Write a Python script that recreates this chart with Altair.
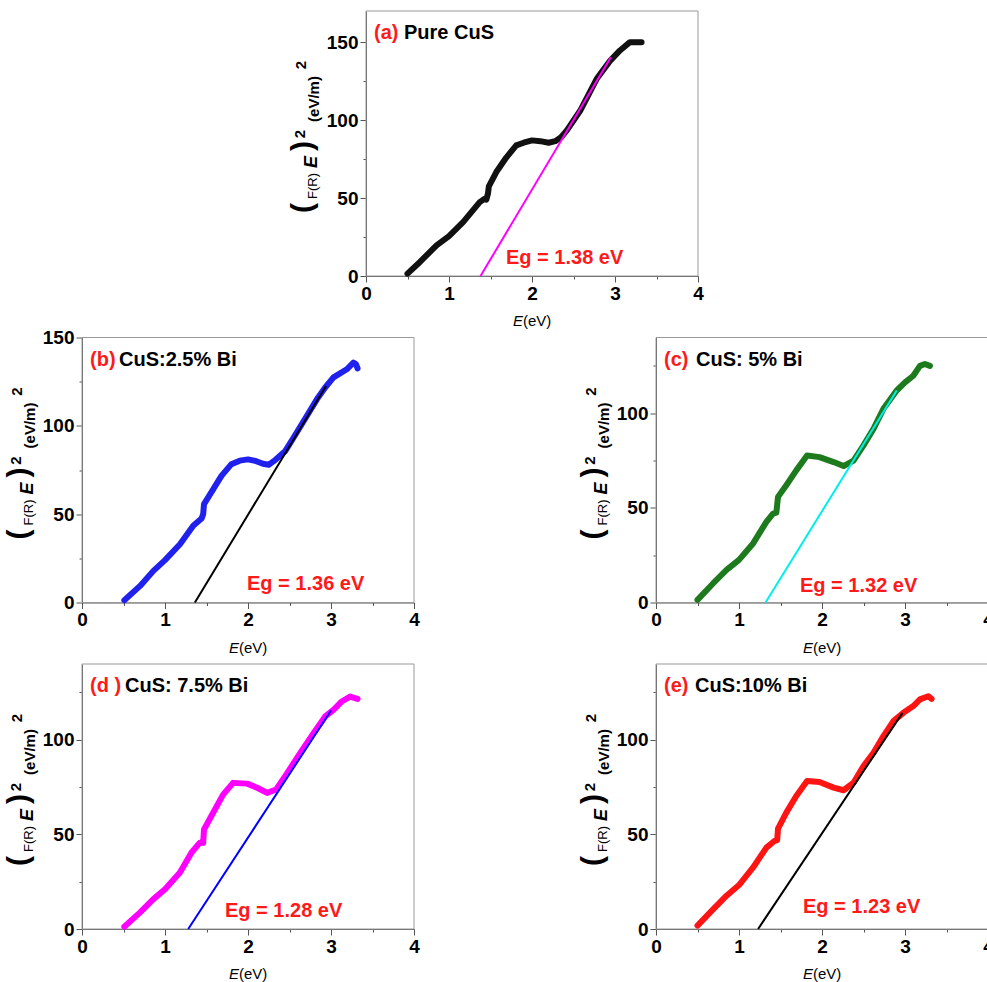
import altair as alt
import pandas as pd

# ---------------- data ----------------
tags = ["(a)", "(b)", "(c)", "(d )", "(e)"]
sample_names = ["Pure CuS", "CuS:2.5% Bi", "CuS: 5% Bi", "CuS: 7.5% Bi", "CuS:10% Bi"]

# Tauc-type curves (F(R)·E)^2 versus photon energy E (eV)
energy_a = [0.50, 0.65, 0.85, 1.00, 1.17, 1.37, 1.43, 1.45, 1.47, 1.48, 1.57, 1.69, 1.81, 1.90,
            2.00, 2.10, 2.20, 2.28, 2.35, 2.42, 2.58, 2.78, 2.94, 3.06, 3.18, 3.32]
signal_a = [1.5, 9.0, 19.7, 25.6, 34.6, 47.4, 49.6, 49.0, 53.0, 57.5, 66.7, 76.0, 83.8, 85.5,
            87.0, 86.5, 85.5, 86.5, 89.0, 93.4, 106.0, 126.5, 138.0, 144.7, 150.0, 150.0]

energy_b = [0.51, 0.70, 0.86, 1.00, 1.18, 1.34, 1.44, 1.46, 1.47, 1.58, 1.68, 1.80, 1.90, 2.00,
            2.10, 2.18, 2.25, 2.31, 2.45, 2.55, 2.71, 2.83, 2.93, 3.03, 3.19, 3.27, 3.30, 3.32]
signal_b = [1.3, 9.4, 17.9, 24.0, 33.0, 43.4, 47.5, 50.0, 55.7, 64.0, 71.7, 78.3, 80.3, 81.0,
            80.0, 78.5, 78.0, 80.0, 85.8, 93.4, 105.7, 115.0, 121.7, 127.4, 132.0, 135.8, 135.0, 132.5]

energy_c = [0.50, 0.69, 0.85, 1.00, 1.17, 1.33, 1.41, 1.45, 1.47, 1.57, 1.69, 1.82, 1.97, 2.14,
            2.26, 2.38, 2.50, 2.62, 2.74, 2.90, 3.00, 3.10, 3.18, 3.24, 3.30]
signal_c = [1.4, 10.2, 17.2, 22.5, 31.2, 42.6, 47.0, 47.5, 55.8, 62.0, 69.8, 77.7, 76.8, 74.2,
            72.1, 75.0, 83.0, 91.7, 102.3, 112.0, 116.3, 119.8, 125.0, 126.0, 125.0]

energy_d = [0.51, 0.70, 0.86, 1.00, 1.18, 1.32, 1.42, 1.46, 1.47, 1.58, 1.70, 1.82, 1.99, 2.11,
            2.23, 2.34, 2.46, 2.63, 2.79, 2.93, 3.03, 3.13, 3.23, 3.32]
signal_d = [1.2, 8.8, 15.8, 21.0, 29.8, 40.4, 45.6, 45.5, 52.6, 61.4, 71.0, 77.2, 76.8, 74.6,
            71.9, 73.7, 81.6, 93.0, 103.5, 112.3, 115.8, 120.2, 122.8, 121.6]

energy_e = [0.50, 0.69, 0.85, 1.00, 1.17, 1.33, 1.43, 1.46, 1.47, 1.57, 1.69, 1.82, 1.97, 2.14,
            2.26, 2.38, 2.50, 2.62, 2.74, 2.86, 2.98, 3.10, 3.18, 3.28, 3.32]
signal_e = [1.8, 10.5, 17.6, 23.2, 32.5, 43.0, 46.6, 47.0, 53.0, 61.5, 70.3, 78.2, 77.7, 74.7,
            73.3, 77.3, 86.1, 93.1, 101.9, 109.8, 114.2, 117.8, 121.3, 123.0, 121.6]

energies = [energy_a, energy_b, energy_c, energy_d, energy_e]
signals = [signal_a, signal_b, signal_c, signal_d, signal_e]

# band-gap extrapolation: straight fit from (Eg, 0) up to its upper end point
eg_values = [1.38, 1.36, 1.32, 1.28, 1.23]
fit_end_E = [2.95, 2.94, 2.90, 3.00, 2.97]
fit_end_Y = [140.4, 122.6, 112.0, 115.4, 114.2]

y_max = [170, 150, 140, 140, 140]
y_tick_values = [[0, 25, 50, 75, 100, 125, 150],
                 [0, 25, 50, 75, 100, 125, 150],
                 [0, 25, 50, 75, 100, 125],
                 [0, 25, 50, 75, 100, 125],
                 [0, 25, 50, 75, 100, 125]]
x_tick_values = [0, 0.5, 1, 1.5, 2, 2.5, 3, 3.5, 4]

# ---------------- style ----------------
FONT = "Liberation Sans"
W, H = 332, 265
COL_GAP = 242
LEFT, TOP = 82, 11            # plot-area corner of the first grid cell
ROW_GAP = 61.5
PAGE_W, PAGE_H = 987, 982
SHIFT_A = 284                 # the top panel sits centred between the two columns
FRAME = "#999999"
AXIS = "#555555"
curve_colors = ["#111111", "#2121ee", "#1d7a1d", "#ff00ff", "#ff1414"]
fit_colors = ["#ff00ff", "#000000", "#00eeee", "#0000ff", "#000000"]
name_x = [38, 37, 40, 43, 39]
eg_label_xy = [(140, 247), (165, 246), (144, 248), (143, 247), (147, 243)]


def txt(s, x, y, size, color="black", weight="bold", italic=False, angle=0, align="center"):
    return alt.Chart(pd.DataFrame({"t": [s]})).mark_text(
        text=s, font=FONT, fontSize=size, fontWeight=weight,
        fontStyle="italic" if italic else "normal", color=color,
        angle=angle, align=align, baseline="middle",
    ).encode(x=alt.value(x), y=alt.value(y))


def panel(i, dx=0):
    x_axis = alt.Axis(
        values=x_tick_values, title=None, grid=False, labelFlush=False,
        labelExpr="datum.value % 1 === 0 ? '' + datum.value : ''",
        tickSize={"condition": {"test": "datum.value % 1 === 0", "value": 6}, "value": 3},
        labelFont=FONT, labelFontSize=19, labelFontWeight="bold", labelColor="black",
        labelPadding=2, domainColor=AXIS, tickColor=AXIS,
    )
    y_axis = alt.Axis(
        values=y_tick_values[i], title=None, grid=False, labelFlush=False,
        labelExpr="datum.value % 50 === 0 ? '' + datum.value : ''",
        tickSize={"condition": {"test": "datum.value % 50 === 0", "value": 6}, "value": 3},
        labelFont=FONT, labelFontSize=19, labelFontWeight="bold", labelColor="black",
        labelPadding=2, domainColor=AXIS, tickColor=AXIS, offset=-dx,
    )
    x_scale = alt.Scale(domain=[0, 4], nice=False, zero=False, range=[dx, dx + W])
    curve_df = pd.DataFrame({"E": energies[i], "Y": signals[i]})
    curve = alt.Chart(curve_df).mark_line(
        color=curve_colors[i], strokeWidth=6, strokeCap="round", strokeJoin="round"
    ).encode(
        x=alt.X("E:Q", scale=x_scale, axis=x_axis),
        y=alt.Y("Y:Q", scale=alt.Scale(domain=[0, y_max[i]], nice=False), axis=y_axis),
    )
    fit_df = pd.DataFrame({"E": [eg_values[i], fit_end_E[i]], "Y": [0, fit_end_Y[i]]})
    fit = alt.Chart(fit_df).mark_line(color=fit_colors[i], strokeWidth=2).encode(
        x="E:Q", y="Y:Q"
    )
    # plot frame drawn as a rectangle so it can follow the shifted range
    frame = alt.Chart(pd.DataFrame({"v": [0]})).mark_rect(
        fill="transparent", stroke=FRAME, strokeWidth=1
    ).encode(x=alt.value(dx), x2=alt.value(dx + W), y=alt.value(0), y2=alt.value(H))

    ex, ey = eg_label_xy[i]
    layers = [
        frame, curve, fit,
        txt(tags[i], dx + 8, 22, 20, color="#ff1a1a", align="left"),
        txt(sample_names[i], dx + name_x[i], 22, 20, align="left"),
        txt(f"Eg = {eg_values[i]:.2f} eV", dx + ex, ey, 20, color="#ff1a1a", align="left"),
        # x title: E(eV)
        txt("E", dx + W / 2 - 9, H + 45, 15, weight="normal", italic=True, align="right"),
        txt("(eV)", dx + W / 2 - 9, H + 45, 15, weight="normal", align="left"),
        # y title: (F(R) E)^2 (eV/m)^2, rotated
        txt("(", dx - 63, 197, 30, angle=270),
        txt("F(R)", dx - 53, 175, 13, weight="normal", angle=270),
        txt("E", dx - 54, 151, 18, italic=True, angle=270),
        txt(")", dx - 63, 135, 30, angle=270),
        txt("2", dx - 66, 123, 15, angle=270),
        txt("(eV/m)", dx - 52, 88, 15, angle=270),
        txt("2", dx - 65, 54, 15, angle=270),
    ]
    return alt.layer(*layers).properties(width=W, height=H)


def blank(w, h):
    # empty grid cell
    return alt.Chart(pd.DataFrame({"v": [0]})).mark_point(opacity=0).encode(
        x=alt.value(0), y=alt.value(0)
    ).properties(width=w, height=h)


cells = [
    panel(0, SHIFT_A), blank(1, 1),
    panel(1), panel(2),
    panel(3), panel(4),
]

chart = alt.concat(
    *cells, columns=2, bounds="flush",
    spacing={"row": ROW_GAP, "column": COL_GAP},
).properties(
    autosize=alt.AutoSizeParams(type="none"),
    padding={"left": LEFT, "top": TOP, "right": PAGE_W - LEFT, "bottom": PAGE_H - TOP},
).configure_view(stroke=None)

chart.save("out.html", embed_options={"renderer": "svg", "actions": False})
